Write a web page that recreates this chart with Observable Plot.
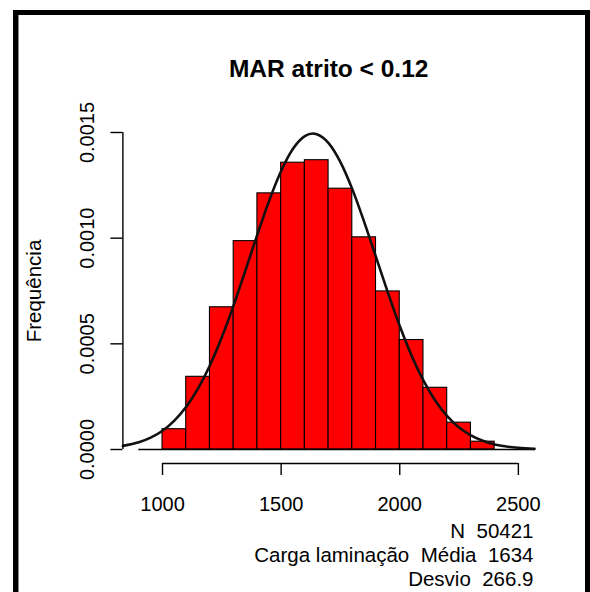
<!DOCTYPE html>
<html>
<head>
<meta charset="utf-8">
<script src="https://cdn.jsdelivr.net/npm/d3@7"></script>
<script src="https://cdn.jsdelivr.net/npm/@observablehq/plot@0.6"></script>
<style>
  html, body { margin: 0; padding: 0; background: #fff; }
  #wrap { position: relative; width: 590px; height: 592px; overflow: hidden; background: #fff; }
  #frame { position: absolute; left: 13px; top: 10px; width: 577px; height: 600px; box-sizing: border-box;
           border-left: 5px solid #000; border-top: 5px solid #000; border-right: 5px solid #000;
           box-shadow: inset 1px 0 0 #888; pointer-events: none; }
  svg text { white-space: pre; }
</style>
</head>
<body>
<div id="wrap"><div id="chart"></div><div id="frame"></div></div>
<script>
// ---- data ----
const title = "MAR atrito < 0.12";
const yLabel = "Frequência";
const footerLines = ["N  50421", "Carga laminação  Média  1634", "Desvio  266.9"];

// histogram bins (Carga laminação) and density heights
const binStart = [1000, 1100, 1200, 1300, 1400, 1500, 1600, 1700, 1800, 1900, 2000, 2100, 2200, 2300];
const binEnd   = [1100, 1200, 1300, 1400, 1500, 1600, 1700, 1800, 1900, 2000, 2100, 2200, 2300, 2400];
const density  = [0.000096, 0.000344, 0.000673, 0.000986, 0.001212, 0.001357, 0.001369,
                  0.001234, 0.001004, 0.000748, 0.000518, 0.000292, 0.000127, 0.000037];

// fitted normal curve
const curveX = [833, 900, 950, 1000, 1050, 1100, 1150, 1200, 1250, 1300, 1350, 1400, 1450, 1500, 1550,
                1600, 1634, 1650, 1700, 1750, 1800, 1850, 1900, 1950, 2000, 2050, 2100, 2150, 2200,
                2250, 2300, 2350, 2400, 2450, 2500, 2568];
const curveY = [0.000017, 0.000034, 0.000056, 0.000089, 0.000137, 0.000202, 0.000289, 0.000399, 0.000531,
                0.000683, 0.000849, 0.001018, 0.001179, 0.001318, 0.001423, 0.001483, 0.001495, 0.001492,
                0.001450, 0.001360, 0.001232, 0.001077, 0.000910, 0.000742, 0.000584, 0.000444, 0.000326,
                0.000231, 0.000158, 0.000104, 0.000067, 0.000041, 0.000024, 0.000014, 0.000008, 0.000003];

const xTicks = [1000, 1500, 2000, 2500];
const yTicks = [0, 0.0005, 0.0010, 0.0015];
const xDomain = [833, 2568];
const yDomain = [0, 0.0015];
const baselineRange = [900, 2570];

// ---- build tables ----
const bins = binStart.map((s, i) => ({x1: s, x2: binEnd[i], y: density[i]}));
const curve = curveX.map((x, i) => ({x, y: curveY[i]}));

const chart = Plot.plot({
  width: 590,
  height: 592,
  marginLeft: 122.4,
  marginRight: 56,
  marginTop: 132,
  marginBottom: 143,
  style: { fontFamily: "'Liberation Sans', Arial, sans-serif", fontSize: "20px", color: "#000", background: "transparent" },
  x: { domain: xDomain },
  y: { domain: yDomain },
  marks: [
    Plot.rectY(bins, { x1: "x1", x2: "x2", y: "y", fill: "#FF0000", stroke: "#000", strokeWidth: 1.1 }),
    Plot.ruleY([0], { x1: baselineRange[0], x2: baselineRange[1], stroke: "#000", strokeWidth: 1.4 }),
    Plot.line(curve, { x: "x", y: "y", curve: "monotone-x", stroke: "#111", strokeWidth: 2.6 }),
    // x axis (detached below the plot, R style)
    Plot.ruleY([0], { x1: xTicks[0], x2: xTicks[xTicks.length - 1], dy: 14, stroke: "#000", strokeWidth: 1.4 }),
    Plot.axisX({ ticks: xTicks, tickSize: 12, dy: 14, tickPadding: 21, tickFormat: d => String(d),
                 fontSize: 20, strokeWidth: 1.4, label: null }),
    // y axis
    Plot.ruleX([xDomain[0]], { y1: yTicks[0], y2: yTicks[yTicks.length - 1], stroke: "#000", strokeWidth: 1.4 }),
    Plot.axisY({ ticks: yTicks, tickSize: 12, tickRotate: -90, tickPadding: 17, tickFormat: d => d.toFixed(4),
                 fontSize: 20, strokeWidth: 1.4, label: null }),
    // title
    Plot.text([title], { frameAnchor: "top", dy: -56, lineAnchor: "bottom", fontSize: 24.5, fontWeight: "bold" }),
    // y label
    Plot.text([yLabel], { frameAnchor: "left", rotate: -90, dx: -82, textAnchor: "middle", lineAnchor: "bottom", fontSize: 20.5 }),
    // footer statistics
    Plot.text([footerLines.join("\n")], { frameAnchor: "bottom-right", textAnchor: "end", lineAnchor: "bottom",
                 dy: 136, dx: -1, lineHeight: 1.17, fontSize: 20.5 })
  ]
});
document.getElementById("chart").appendChild(chart);
</script>
</body>
</html>
